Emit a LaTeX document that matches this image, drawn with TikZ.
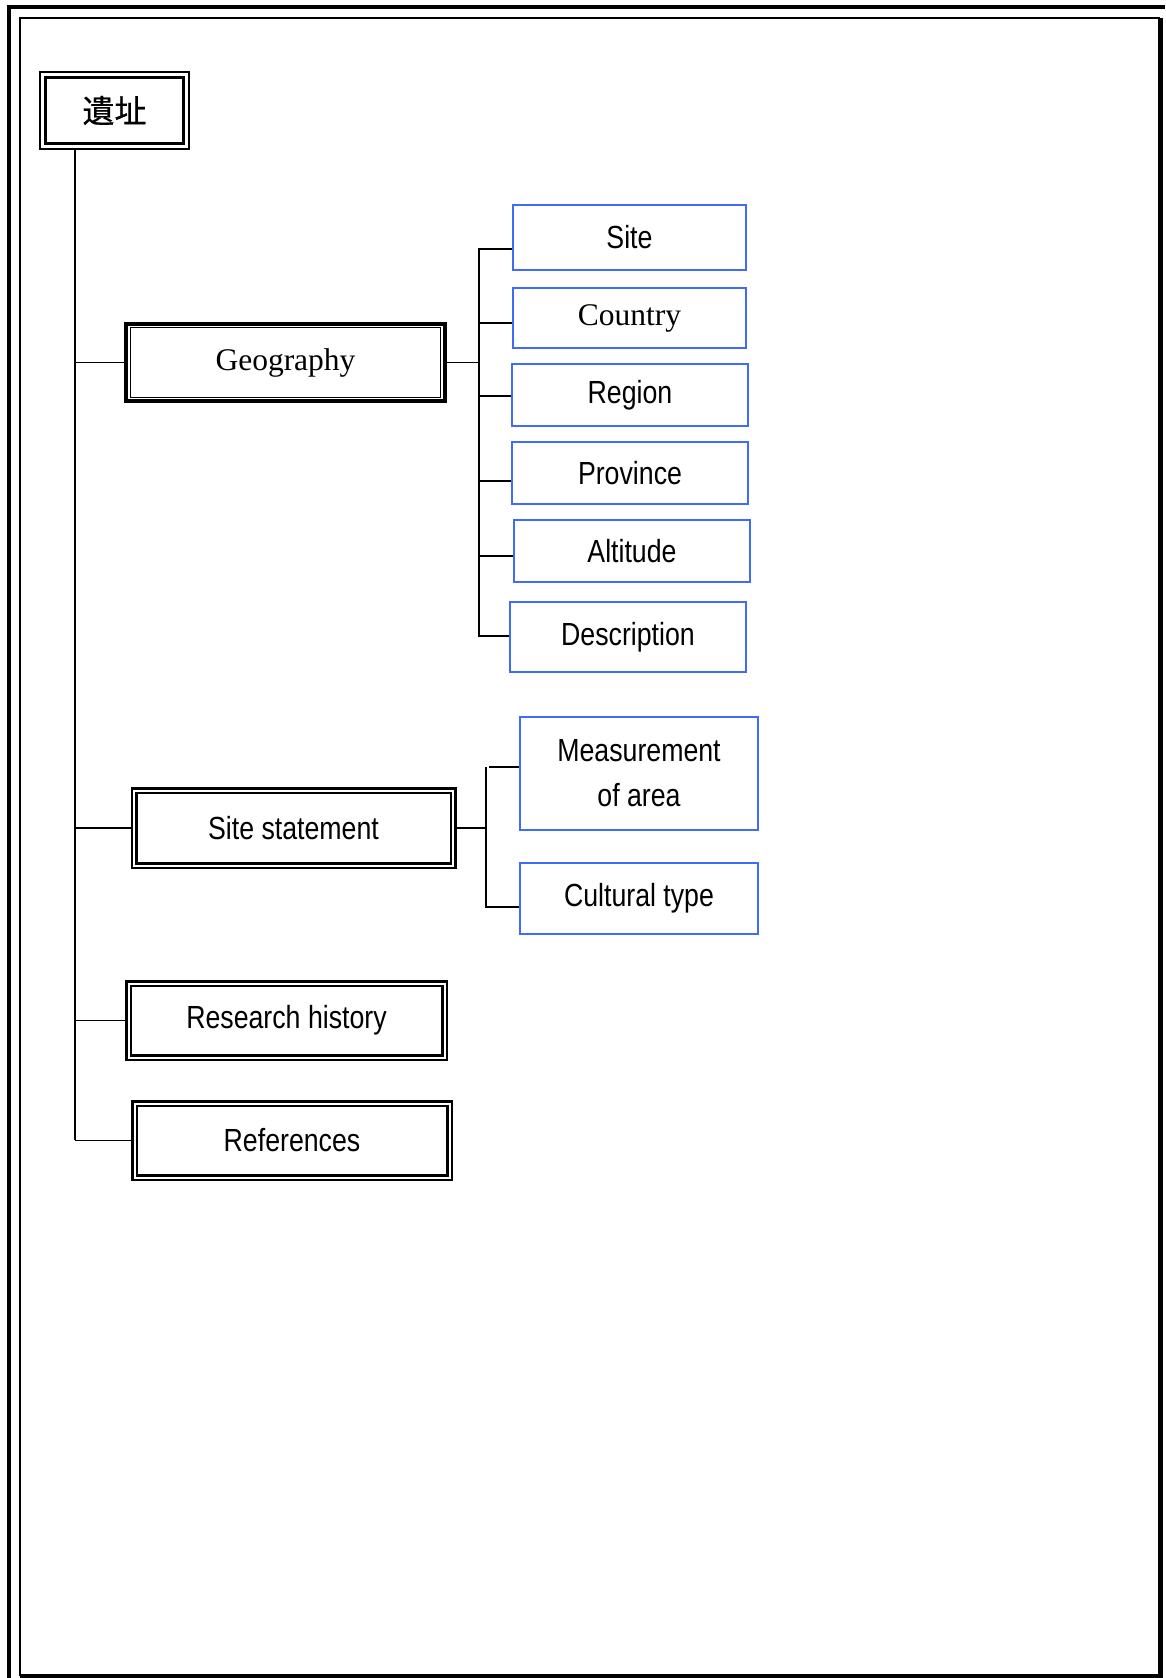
\documentclass[tikz,border=0pt]{standalone}
\usepackage{fontspec}
\setmainfont{Liberation Serif}
\newfontfamily\arialn[FakeStretch=0.835]{Liberation Sans}
\newfontfamily\cjk[FakeBold=0.6]{Noto Sans CJK JP}
\definecolor{boxblue}{RGB}{64,108,245}

\begin{document}
\begin{tikzpicture}[x=1pt, y=-1pt,
        link/.style={line width=1.5pt},
        rootbox/.style={draw, line width=2pt, inner sep=0pt, font=\cjk\fontsize{32}{38}\selectfont},
        geobox/.style={draw, line width=4pt, inner sep=0pt, font=\fontsize{31.5}{36}\selectfont},
        mainbox/.style={draw, double, line width=2.5pt, double distance=2pt, outer sep=3.5pt, inner sep=0pt, font=\arialn\fontsize{32}{36}\selectfont},
        leaf/.style={draw=boxblue, line width=2pt, inner sep=0pt, align=center, font=\arialn\fontsize{32}{45}\selectfont}]
    \useasboundingbox (0,0) rectangle (1165,1678);
    % page frame
    \draw[line width=4pt] (9,1678) -- (9,7) -- (1165,7);
    \draw[line width=2pt] (20,1676) -- (20,18) -- (1160,18);
    \draw[line width=4.5pt] (1160.5,18) -- (1160.5,1676) -- (20,1676);

    % root
    \node[rootbox, minimum width=149pt, minimum height=77pt] (root) at (114.5,110.5) {遺址};
    \draw[line width=3pt] ([shift={(6.5,6.5)}]root.north west) rectangle ([shift={(-6.5,-6.5)}]root.south east);

    % first level
    \node[geobox, minimum width=319pt, minimum height=77pt] (geo) at (285.5,362.5) {Geography};
    \draw[line width=1pt] ([shift={(6.5,5.5)}]geo.north west) rectangle ([shift={(-6.5,-5.5)}]geo.south east);
    \node[mainbox, minimum width=319pt, minimum height=75pt] (stat) at (293.5,828) {Site statement};
    \node[mainbox, minimum width=316pt, minimum height=74pt] (hist) at (286.5,1020.5) {Research history};
    \node[mainbox, minimum width=315pt, minimum height=74pt] (refs) at (292,1140.5) {References};

    % trunk
    \coordinate (trunk) at (75,1140);
    \draw[link] (root.south -| trunk) -- (trunk);
    \foreach \n in {geo, stat, hist, refs}
        \draw[link] (\n.west -| trunk) -- (\n.west);

    % geography leaves
    \node[leaf, minimum width=233pt, minimum height=65pt] (site) at (629.5,237.5) {Site};
    \node[leaf, minimum width=233pt, minimum height=60pt, font=\fontsize{31.5}{36}\selectfont] (country) at (629.5,318) {Country};
    \node[leaf, minimum width=236pt, minimum height=62pt] (region) at (630,395) {Region};
    \node[leaf, minimum width=236pt, minimum height=62pt] (province) at (630,473) {Province};
    \node[leaf, minimum width=236pt, minimum height=62pt] (alt) at (632,551) {Altitude};
    \node[leaf, minimum width=236pt, minimum height=70pt] (desc) at (628,637) {Description};
    \draw[link] (479,248) -- (479,637);
    \draw[link] (geo.east) -- (geo.east -| 479,0);
    \foreach \n/\y in {site/249, country/323, region/396, province/481, alt/556, desc/636}
        \draw[link] (479,\y) -- (\n.west |- 479,\y);

    % statement leaves
    \node[leaf, minimum width=238pt, minimum height=113pt] (meas) at (639,773.5) {Measurement\\of area};
    \node[leaf, minimum width=238pt, minimum height=71pt] (cult) at (639,898.5) {Cultural type};
    \draw[link] (486,767) -- (486,908);
    \draw[link] (stat.east) -- (stat.east -| 486,0);
    \draw[link] (489,767) -- (meas.west |- 489,767);
    \draw[link] (486,907) -- (cult.west |- 486,907);
\end{tikzpicture}
\end{document}
